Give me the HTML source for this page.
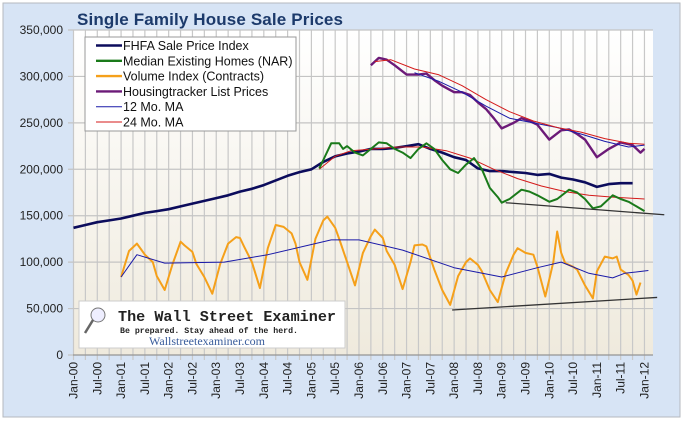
<!DOCTYPE html>
<html><head><meta charset="utf-8"><style>
html,body{margin:0;padding:0;background:#fff;}
svg{display:block;font-family:"Liberation Sans",Arial,sans-serif;}
</style></head><body>
<svg id="chart" width="685" height="422" viewBox="0 0 685 422">
<defs>
<linearGradient id="pg" x1="0" y1="0" x2="0" y2="1"><stop offset="0" stop-color="#ffffff"/><stop offset="1" stop-color="#efeadd"/></linearGradient>
<clipPath id="pc"><rect x="73" y="30" width="580" height="325"/></clipPath>
</defs>
<rect x="3" y="3" width="677" height="414" fill="#d7e4f5" stroke="#b5b9bf"/>
<rect x="73" y="30" width="580" height="325" fill="url(#pg)"/>
<g id="grid"></g>
<g id="series" clip-path="url(#pc)"></g>
<g id="trends"></g>
<g id="axes"></g>
<text x="77" y="25" font-size="17" font-weight="bold" fill="#1c3a6b" textLength="266">Single Family House Sale Prices</text>
<g>
<rect x="85" y="37" width="211" height="94" fill="#fff" stroke="#9a9a9a"/>
<g id="legend"></g>
</g>
<g>
<rect x="79" y="301" width="266" height="47" fill="#fff" stroke="#ccc"/>
<circle cx="98" cy="315" r="7" fill="#eef" stroke="#777"/>
<line x1="93" y1="320" x2="85" y2="333" stroke="#666" stroke-width="2.5"/>
<text x="118" y="321" font-family="'Liberation Mono',monospace" font-size="15" font-weight="bold" fill="#222" textLength="218" lengthAdjust="spacingAndGlyphs">The Wall Street Examiner</text>
<text x="120" y="333" font-family="'Liberation Mono',monospace" font-size="8" font-weight="bold" fill="#222" textLength="178" lengthAdjust="spacingAndGlyphs">Be prepared. Stay ahead of the herd.</text>
<text x="149" y="345" font-family="'Liberation Serif',serif" font-size="12" fill="#3a5d9c">Wallstreetexaminer.com</text>
</g>
</svg>
<script>
// ---- data (values in $ thousands, months since Jan-2000) ----
const yTicks = [0,50,100,150,200,250,300,350];
const xLabels = ["Jan-00","Jul-00","Jan-01","Jul-01","Jan-02","Jul-02","Jan-03","Jul-03","Jan-04","Jul-04","Jan-05","Jul-05","Jan-06","Jul-06","Jan-07","Jul-07","Jan-08","Jul-08","Jan-09","Jul-09","Jan-10","Jul-10","Jan-11","Jul-11","Jan-12"];
const fhfaMonths = [0,3,6,9,12,15,18,21,24,27,30,33,36,39,42,45,48,51,54,57,60,63,66,69,72,75,78,81,84,87,90,93,96,99,102,105,108,111,114,117,120,123,126,129,132,135,138,141];
const fhfaValues = [137,140,143,145,147,150,153,155,157,160,163,166,169,172,176,179,183,188,193,197,200,208,214,217,219,222,222,223,225,227,222,218,213,210,201,198,198,197,196,194,195,191,189,186,181,184,185,185];
const narMonths = [62,63,65,67,68,69,71,73,75,77,79,81,83,85,87,89,91,93,95,97,99,101,103,105,107,108,110,113,115,117,120,122,125,127,129,131,133,136,138,140,142,144];
const narValues = [201,210,228,228,222,225,218,215,222,229,228,222,218,212,222,228,222,210,200,196,205,212,200,180,170,164,168,178,176,172,165,168,178,175,168,158,160,172,168,165,160,155];
const narMa24Months = [62,66,70,76,82,88,94,100,106,112,118,124,130,136,144];
const narMa24Values = [200,214,220,222,224,224,220,212,200,190,182,176,172,170,168];
const volMonths = [12,14,16,17,18,20,21,23,25,27,28,30,31,33,35,37,39,41,42,43,45,47,49,51,53,55,56,57,59,61,63,64,66,67,69,71,73,75,76,78,79,81,83,85,86,88,89,91,93,95,97,99,100,102,103,105,107,109,111,112,114,116,117,119,121,122,123,124,126,127,129,131,132,134,136,137,138,140,141,142,143];
const volValues = [84,112,120,114,108,100,85,70,98,122,118,111,98,84,66,98,120,127,126,117,100,72,115,140,138,131,120,100,81,125,145,149,137,125,100,75,110,128,135,126,112,97,71,100,118,119,117,92,70,54,85,100,104,97,90,70,57,88,108,115,110,108,95,63,100,133,110,99,95,92,75,61,90,106,104,106,92,86,80,65,78];
const volMa12Months = [12,16,23,38,49,65,72,83,96,108,117,123,130,136,139,145];
const volMa12Values = [84,108,99,100,108,124,124,113,94,84,94,100,88,83,88,91];
const htMonths = [75,77,79,81,84,87,89,91,93,96,98,100,102,104,106,108,111,113,115,117,120,123,125,127,129,132,135,138,141,143,144];
const htValues = [312,320,318,312,302,302,303,296,290,283,283,280,272,265,255,244,250,255,252,248,232,242,243,238,232,213,222,229,226,218,222];
const htMa12Months = [86,92,98,104,110,116,122,128,134,140,144];
const htMa12Values = [304,295,283,268,255,250,245,238,230,224,226];
const htMa24Months = [76,80,86,92,98,104,110,116,122,128,134,140,144];
const htMa24Values = [316,318,308,302,290,275,262,252,245,240,233,228,227];
const trendUpperMonths = [109,149];
const trendUpperValues = [164,151];
const trendLowerMonths = [95.5,147.2];
const trendLowerValues = [48.5,62];

// ---- axis functions ----
const X0=73.5, DX=3.965, Y0=355, YH=325, YMAX=350;
function xs(m){return X0+m*DX;}
function ys(v){return Y0-v/YMAX*YH;}
const NS="http://www.w3.org/2000/svg";
function mk(tag,attrs,parent){const e=document.createElementNS(NS,tag);for(const k in attrs)e.setAttribute(k,attrs[k]);parent.appendChild(e);return e;}
const grid=document.getElementById('grid'),series=document.getElementById('series'),axes=document.getElementById('axes'),trends=document.getElementById('trends'),legend=document.getElementById('legend');

for(let m=0;m*DX+X0<=653;m+=3){
  const l=mk('line',{x1:xs(m),x2:xs(m),y1:30,y2:360,stroke:'#c8c8c8','stroke-width':1.2},grid);
  
  
}
yTicks.forEach(t=>{
  const l=mk('line',{x1:68,x2:653,y1:ys(t),y2:ys(t),stroke:'#c4c4c4','stroke-width':1.2},grid);
  
  
  const tx=mk('text',{x:63,y:ys(t)+4,'font-size':12,'text-anchor':'end',fill:'#222'},axes);
  tx.textContent=t===0?'0':(t+',000');
  
  
});
const ax=mk('line',{x1:73,x2:653,y1:355,y2:355,stroke:'#888'},axes);


xLabels.forEach((lab,i)=>{
  const x=xs(i*6);
  const t=mk('text',{x:0,y:0,'font-size':12,'text-anchor':'end',fill:'#222',transform:`translate(${x+4},362) rotate(-90)`},axes);
  t.textContent=lab;
  
  
});

function line(ms,vs,color,w,name){
  const p=ms.map((m,i)=>(i?'L':'M')+xs(m).toFixed(1)+','+ys(vs[i]).toFixed(1)).join('');
  const e=mk('path',{d:p,fill:'none',stroke:color,'stroke-width':w,'stroke-linejoin':'round'},series);
  
  
}
line(volMonths,volValues,'#f5a01a',2,'volume-index-line');
line(volMa12Months,volMa12Values,'#1a1aa8',1,'volume-12mo-ma');
line(fhfaMonths,fhfaValues,'#0c0c5c',2.6,'fhfa-line');
line(narMa24Months,narMa24Values,'#d41a1a',1,'nar-24mo-ma');
line(narMonths,narValues,'#1a7a1a',2,'nar-median-line');
line(htMonths,htValues,'#6c1a78',2.4,'housingtracker-line');
line(htMa12Months,htMa12Values,'#1a1aa8',1,'housingtracker-12mo-ma');
line(htMa24Months,htMa24Values,'#d41a1a',1,'housingtracker-24mo-ma');

function tl(ms,vs,name){
  const e=mk('line',{x1:xs(ms[0]),y1:ys(vs[0]),x2:xs(ms[1]),y2:ys(vs[1]),stroke:'#333','stroke-width':1.3},trends);
  
  
}
tl(trendUpperMonths,trendUpperValues,'upper-trendline');
tl(trendLowerMonths,trendLowerValues,'lower-trendline');

const legItems=[["FHFA Sale Price Index","#0c0c5c",2.6],["Median Existing Homes (NAR)","#1a7a1a",2.4],["Volume Index (Contracts)","#f5a01a",2.4],["Housingtracker List Prices","#6c1a78",2.4],["12 Mo. MA","#1a1aa8",1],["24 Mo. MA","#d41a1a",1]];
legItems.forEach((it,i)=>{
  const y=45.5+i*15.3;
  const g=mk('g',{},legend);
  
  
  mk('line',{x1:96,x2:122,y1:y,y2:y,stroke:it[1],'stroke-width':it[2]},g);
  const t=mk('text',{x:123,y:y+4.5,'font-size':12.5,fill:'#111'},g);
  t.textContent=it[0];
});
</script>
</body></html>
